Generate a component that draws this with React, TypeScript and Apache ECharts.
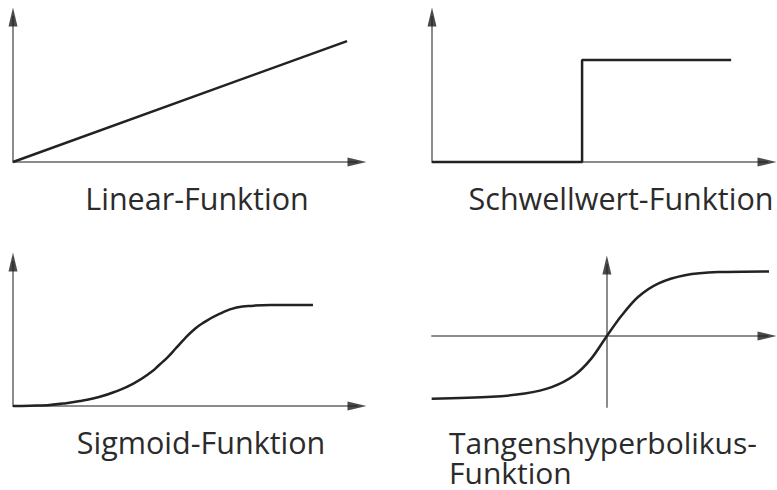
import React, { useEffect, useRef } from "react";
import * as echarts from "echarts";

// Panel labels
const labels = ["Linear-Funktion", "Schwellwert-Funktion", "Sigmoid-Funktion", "Tangenshyperbolikus-\nFunktion"];

// Linear function (x, y)
const linearData: number[][] = [[0, 0], [9.71, 8.34]];

// Threshold (step) function
const stepData: number[][] = [[0, 0], [4.48, 0], [4.48, 7.03], [8.93, 7.03]];

// Sigmoid curve points
const sigmoidData: number[][] = [
  [0, 0], [0.5, 0.02], [1.0, 0.06], [1.5, 0.18], [2.0, 0.37], [2.5, 0.62], [3.0, 1.02],
  [3.5, 1.55], [4.0, 2.32], [4.25, 2.85], [4.5, 3.4], [4.75, 4.05], [5.0, 4.7], [5.25, 5.28],
  [5.5, 5.73], [6.0, 6.39], [6.5, 6.84], [7.0, 6.97], [7.5, 7.01], [8.0, 7.01], [8.72, 7.01],
];

// Tanh curve points
const tanhData: number[][] = [
  [-5.23, -0.98], [-3.44, -0.95], [-2.45, -0.9], [-1.65, -0.8], [-0.96, -0.61], [-0.46, -0.35],
  [0, 0], [0.44, 0.32], [0.93, 0.61], [1.53, 0.82], [2.33, 0.95], [3.32, 1.0], [5.07, 1.01],
];

// Axis ranges per panel: [xmin, xmax, ymin, ymax]
const ranges = [
  [0, 10, 0, 10],
  [0, 10, 0, 10],
  [0, 10, 0, 10],
  [-5.22, 4.78, -1.11, 1.11],
];

const AXIS_COLOR = "#8c8c8c";
const CURVE_COLOR = "#222222";
const ARROW_COLOR = "#1e1e1e";
const FONT = "'Open Sans', 'Noto Sans', sans-serif";

export default function App() {
  const ref = useRef<HTMLDivElement>(null);
  useEffect(() => {
    if (!ref.current) return;
    const chart = echarts.init(ref.current, null, { renderer: "svg" });
    const grids = [
      { left: 13, top: 17, width: 344, height: 145 },
      { left: 432, top: 17, width: 335, height: 145 },
      { left: 13, top: 262, width: 344, height: 144 },
      { left: 432, top: 265, width: 335, height: 142 },
    ].map((g) => ({ ...g, outerBoundsMode: "none", containLabel: false, show: false }));

    const axisCommon = {
      type: "value",
      axisLine: { show: true, onZero: true, lineStyle: { color: AXIS_COLOR, width: 2 } },
      axisTick: { show: false },
      axisLabel: { show: false },
      splitLine: { show: false },
    };
    const xAxis = ranges.map((r, i) => ({ ...axisCommon, gridIndex: i, min: r[0], max: r[1] }));
    const yAxis = ranges.map((r, i) => ({ ...axisCommon, gridIndex: i, min: r[2], max: r[3] }));

    const curve = (data: number[][], i: number, smooth: number | boolean) => ({
      type: "line",
      xAxisIndex: i,
      yAxisIndex: i,
      data,
      symbol: "none",
      smooth,
      clip: false,
      lineStyle: { color: CURVE_COLOR, width: 2.5 },
      z: 5,
    });

    const arrows = (i: number) => {
      const r = ranges[i];
      const yOrigin = r[2] < 0 ? 0 : r[2];
      const xOrigin = r[0] < 0 ? 0 : r[0];
      return [
        {
          type: "scatter",
          xAxisIndex: i,
          yAxisIndex: i,
          data: [[r[1], yOrigin]],
          symbol: "triangle",
          symbolSize: [9, 19],
          symbolRotate: -90,
          itemStyle: { color: ARROW_COLOR },
          silent: true,
          clip: false,
          z: 6,
        },
        {
          type: "scatter",
          xAxisIndex: i,
          yAxisIndex: i,
          data: [[xOrigin, r[3]]],
          symbol: "triangle",
          symbolSize: [9, 19],
          symbolRotate: 0,
          itemStyle: { color: ARROW_COLOR },
          silent: true,
          clip: false,
          z: 6,
        },
      ];
    };

    const textEl = (text: string, x: number, y: number, align: string, vAlign: string, size: number, lh: number) => ({
      type: "text",
      x,
      y,
      silent: true,
      style: {
        text,
        fill: "#2b2b2b",
        font: `${size}px ${FONT}`,
        lineHeight: lh,
        align,
        verticalAlign: vAlign,
      },
    });

    chart.setOption({
      animation: false,
      backgroundColor: "#ffffff",
      grid: grids,
      xAxis,
      yAxis,
      series: [
        curve(linearData, 0, false),
        curve(stepData, 1, false),
        curve(sigmoidData, 2, 0.5),
        curve(tanhData, 3, 0.3),
        ...arrows(0),
        ...arrows(1),
        ...arrows(2),
        ...arrows(3),
      ],
      graphic: [
        textEl(labels[0], 197, 198, "center", "middle", 30.5, 31),
        textEl(labels[1], 621, 198, "center", "middle", 30.5, 31),
        textEl(labels[2], 201, 442, "center", "middle", 30.5, 31),
        textEl(labels[3], 449, 427, "left", "top", 30, 30),
      ],
    });
    return () => chart.dispose();
  }, []);
  return (
    <div
      ref={ref}
      style={{ position: "absolute", left: 0, top: 0, width: 777, height: 490, background: "#fff" }}
    />
  );
}
